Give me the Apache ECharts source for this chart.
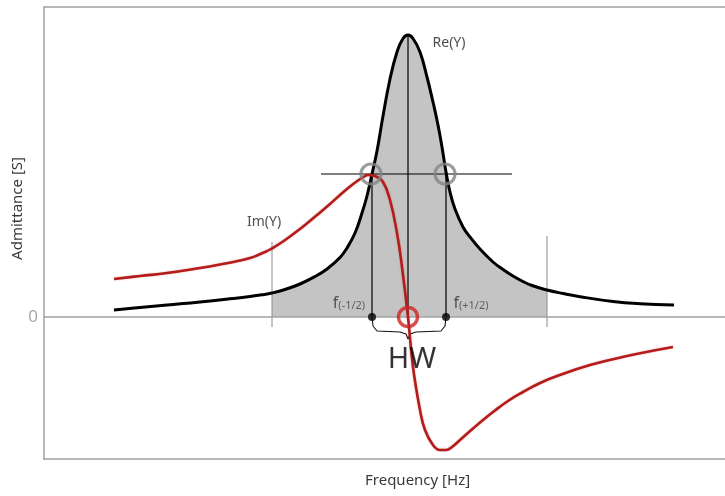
<!DOCTYPE html>
<html>
<head>
<meta charset="utf-8">
<script src="https://cdn.jsdelivr.net/npm/echarts@6/dist/echarts.min.js"></script>
<style>
  html, body { margin: 0; padding: 0; background: #fff; }
  #chart { width: 725px; height: 496px; }
</style>
</head>
<body>
<div id="chart"></div>
<script>
// Frequency sweep (arbitrary frequency units) and admittance (arbitrary units)
const reFreq = [114, 140, 167, 200, 233, 250, 262, 272, 285, 300, 315, 327, 340, 347, 355, 362, 367, 372, 377, 383, 390, 397, 403, 408, 413, 420, 427, 433, 438, 442, 446, 450, 455, 463, 470, 480, 493, 503, 513, 522, 532, 547, 563, 580, 613, 640, 674];
const reVal  = [7, 9.5, 12, 15, 18.5, 20.5, 22.2, 24, 27.5, 33, 40.5, 48, 59.5, 69, 84, 104, 121, 143, 166, 201, 238, 265, 278.5, 282, 278.5, 265, 240, 215, 192, 170, 145, 125, 108, 90, 80, 68, 55, 47.5, 41, 36, 31.5, 27, 23.5, 20.3, 15.5, 13.3, 12];

const imFreq = [114, 140, 167, 200, 220, 240, 250, 257, 265, 270, 283, 300, 317, 330, 340, 350, 358, 364, 368, 375, 383, 390, 397, 402, 408, 413, 420, 425, 433, 440, 446, 452, 460, 473, 483, 493, 508, 523, 540, 557, 590, 627, 673];
const imVal  = [38, 41, 44, 49, 52.5, 56.5, 59, 61.5, 65, 67.5, 75.5, 88, 102, 113, 122, 130.5, 136.5, 140.3, 142, 141, 135, 117, 84, 50, 0, -50, -93, -113, -128, -133, -133, -130, -123, -111.5, -103, -95, -84, -75, -66, -59, -48, -39, -30];

// Characteristic frequencies and levels
const fRes = 408;           // resonance (Im = 0, Re max)
const fLow = 372;           // f(-1/2)
const fHigh = 446;          // f(+1/2)
const reMax = 282;
const halfMax = 143;
const bandLow = 272;        // shaded integration band
const bandHigh = 547;
const crossFrom = 321;      // half-level marker line
const crossTo = 512;

const rePts = reFreq.map((f, i) => [f, reVal[i]]);
const imPts = imFreq.map((f, i) => [f, imVal[i]]);
const bandPts = rePts.filter(p => p[0] >= bandLow && p[0] <= bandHigh);

const seg = (name, pts, color, width, z) => ({
  name: name, type: 'line', data: pts, symbol: 'none', silent: true,
  lineStyle: { color: color, width: width, type: 'solid' }, z: z || 3
});

const labelFont = 'Noto Sans';
const frameLine = { show: true, onZero: false, lineStyle: { color: '#a2a2a2', width: 1.5 } };
const bare = { axisTick: { show: false }, axisLabel: { show: false }, splitLine: { show: false } };
const curveSmooth = 0.45;

const chart = echarts.init(document.getElementById('chart'));
chart.setOption({
  animation: false,
  grid: { left: 44, top: 7, right: 0, bottom: 37 },
  xAxis: [
    Object.assign({ type: 'value', min: 44, max: 725, position: 'bottom', axisLine: frameLine }, bare),
    Object.assign({ type: 'value', min: 44, max: 725, position: 'top', axisLine: frameLine }, bare)
  ],
  yAxis: {
    type: 'value', min: -142, max: 310, interval: 142,
    axisLine: frameLine, axisTick: { show: false }, splitLine: { show: false },
    axisLabel: {
      margin: 6, color: '#a8a8a8', fontSize: 17, fontFamily: labelFont,
      formatter: v => (v === 0 ? '0' : '')
    }
  },
  graphic: [
    { type: 'text', left: 10, top: 157, rotation: Math.PI / 2,
      style: { text: 'Admittance [S]', fill: '#3a3a3a', font: '15px "Noto Sans"' } },
    { type: 'text', left: 365, top: 473,
      style: { text: 'Frequency [Hz]', fill: '#3a3a3a', font: '15px "Noto Sans"' } }
  ],
  series: [
    { name: 'band', type: 'line', data: bandPts, smooth: curveSmooth, symbol: 'none', silent: true,
      lineStyle: { width: 0 }, areaStyle: { color: '#c4c4c4', opacity: 1, origin: 0 }, z: 1,
      markLine: { silent: true, symbol: 'none', label: { show: false },
        lineStyle: { color: '#a2a2a2', width: 1.5, type: 'solid' }, data: [{ yAxis: 0 }] } },
    seg('bandLowEdge', [[bandLow, 75], [bandLow, -10]], '#8c8c8c', 1, 2),
    seg('bandHighEdge', [[bandHigh, 81], [bandHigh, -10]], '#8c8c8c', 1, 2),
    seg('halfLevel', [[crossFrom, halfMax], [crossTo, halfMax]], '#000', 1.2, 2),
    seg('lowMark', [[fLow, halfMax], [fLow, 0]], '#000', 1.2, 2),
    seg('resMark', [[fRes, reMax], [fRes, 0]], '#000', 1.2, 2),
    seg('highMark', [[fHigh, halfMax], [fHigh, 0]], '#000', 1.2, 2),
    seg('braceL', [[fLow, 0], [fLow + 1, -9], [fLow + 5, -14], [fRes - 8, -15], [fRes - 2, -17], [fRes, -22]], '#111', 1.1, 2),
    seg('braceR', [[fRes, -22], [fRes + 2, -17], [fRes + 8, -15], [fHigh - 5, -14], [fHigh - 1, -9], [fHigh, 0]], '#111', 1.1, 2),
    { name: 'Re(Y)', type: 'line', data: rePts, smooth: curveSmooth, symbol: 'none', silent: true,
      lineStyle: { color: '#000', width: 3 }, z: 4 },
    { name: 'Im(Y)', type: 'line', data: imPts, smooth: curveSmooth, symbol: 'none', silent: true,
      lineStyle: { color: '#b41c1c', width: 2.6, shadowColor: 'rgba(200,40,40,0.35)', shadowBlur: 2 }, z: 5 },
    { name: 'halfPoints', type: 'scatter', data: [[fLow - 1, halfMax], [fHigh - 1, halfMax]], symbol: 'circle', symbolSize: 20, silent: true,
      itemStyle: { color: 'rgba(0,0,0,0)', borderColor: '#858585', borderWidth: 3.2 }, z: 6 },
    { name: 'resPoint', type: 'scatter', data: [[fRes, 0]], symbol: 'circle', symbolSize: 19, silent: true,
      itemStyle: { color: 'rgba(0,0,0,0)', borderColor: '#cc2424', borderWidth: 3.4 }, z: 6 },
    { name: 'halfDots', type: 'scatter', data: [[fLow, 0], [fHigh, 0]], symbol: 'circle', symbolSize: 8, silent: true,
      itemStyle: { color: '#000' }, z: 6 },
    { name: 'notes', type: 'scatter', symbolSize: 0, silent: true, z: 7,
      label: { show: true, position: 'inside', color: '#222', fontFamily: labelFont, fontSize: 14 },
      data: [
        { value: [449, 274], label: { formatter: 'Re(Y)' } },
        { value: [264, 95], label: { formatter: 'Im(Y)' } },
        { value: [349, 14], label: { formatter: '{f|f}{s|(-1/2)}',
          rich: { f: { fontSize: 16, color: '#333', fontFamily: labelFont }, s: { fontSize: 11, color: '#444', fontFamily: labelFont, padding: [5, 0, 0, 0] } } } },
        { value: [471, 14], label: { formatter: '{f|f}{s|(+1/2)}',
          rich: { f: { fontSize: 16, color: '#333', fontFamily: labelFont }, s: { fontSize: 11, color: '#444', fontFamily: labelFont, padding: [5, 0, 0, 0] } } } },
        { value: [412, -43], label: { formatter: 'HW', fontSize: 29, color: '#000' } }
      ] }
  ]
});
</script>
</body>
</html>
